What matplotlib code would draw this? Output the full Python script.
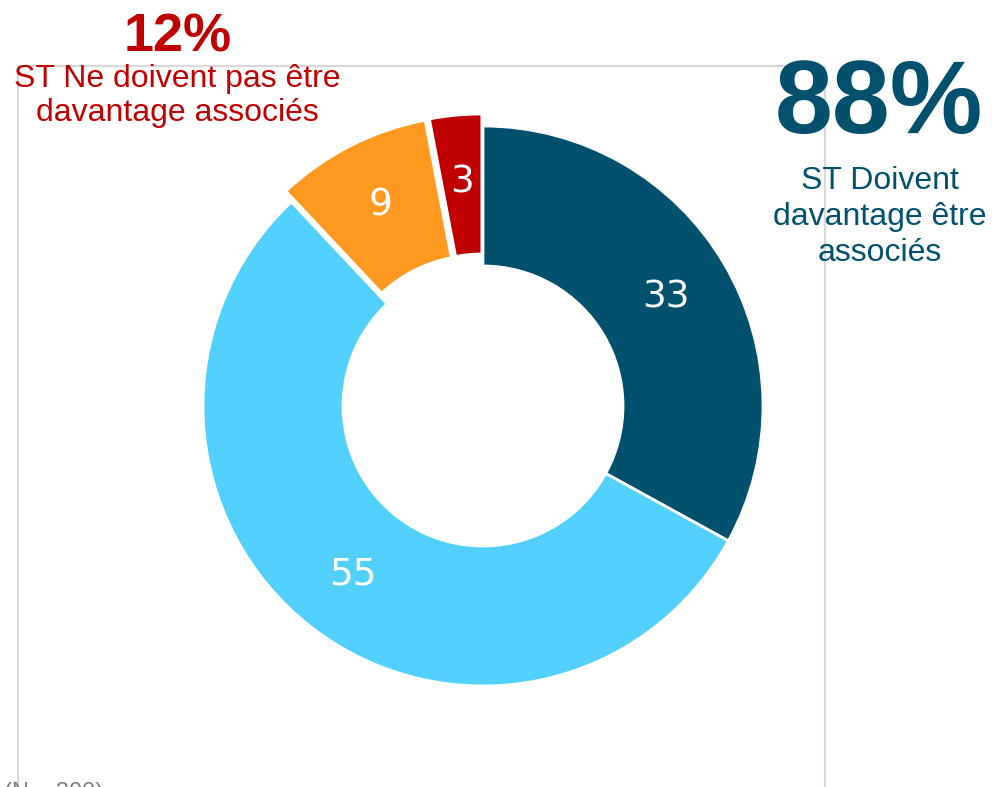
import matplotlib.pyplot as plt
from matplotlib.patches import Rectangle

# ----------------------------
# Data
# ----------------------------
values = [33, 55, 9, 3]
colors = ["#00506E", "#52D1FF", "#FF991F", "#C00000"]
explode = [0, 0, 0.043, 0.043]

share_no = "12%"
label_no = "ST Ne doivent pas être\ndavantage associés"
share_yes = "88%"
label_yes = "ST Doivent\ndavantage être\nassociés"
base_note = "(N = 300)"

W, H = 992, 787
fig = plt.figure(figsize=(W / 100, H / 100), dpi=100)

# light grey frame (runs off the bottom edge)
frame = Rectangle((18 / W, -0.05), (825 - 18) / W, (H - 66) / H + 0.05,
                  transform=fig.transFigure, fill=False,
                  edgecolor="#D9D9D9", linewidth=1.6)
fig.patches.append(frame)

# ----------------------------
# Donut
# ----------------------------
cx, cy, r = 483, 406, 280
half = r * 1.1
ax = fig.add_axes([(cx - half) / W, (H - cy - half) / H, 2 * half / W, 2 * half / H])

wedges, texts = ax.pie(values, colors=colors, explode=explode, startangle=90,
                       counterclock=False, radius=1,
                       labels=[str(v) for v in values], labeldistance=0.76,
                       wedgeprops=dict(width=0.5, edgecolor="white", linewidth=2),
                       textprops=dict(color="white", fontsize=27,
                                      family="DejaVu Sans", ha="center", va="center"))
ax.set_xlim(-1.1, 1.1)
ax.set_ylim(-1.1, 1.1)
ax.set_aspect("equal")
ax.axis("off")

# ----------------------------
# Annotations
# ----------------------------
red = "#C00000"
navy = "#00506E"
fig.text(178 / W, 1 - 37 / H, share_no, color=red, fontsize=39, fontweight="bold",
         family="Liberation Sans", ha="center", va="center")
fig.text(177 / W, 1 - 96 / H, label_no, color=red, fontsize=23,
         family="Liberation Sans", ha="center", va="center", linespacing=1.14)
fig.text(879 / W, 1 - 106 / H, share_yes, color=navy, fontsize=75, fontweight="bold",
         family="Liberation Sans", ha="center", va="center")
fig.text(880 / W, 1 - 217 / H, label_yes, color=navy, fontsize=23,
         family="Liberation Sans", ha="center", va="center", linespacing=1.26)
fig.text(4 / W, 1 - 782 / H, base_note, color="#7F7F7F", fontsize=17,
         family="Liberation Sans", ha="left", va="top")

fig.savefig("out.png", dpi=100)
